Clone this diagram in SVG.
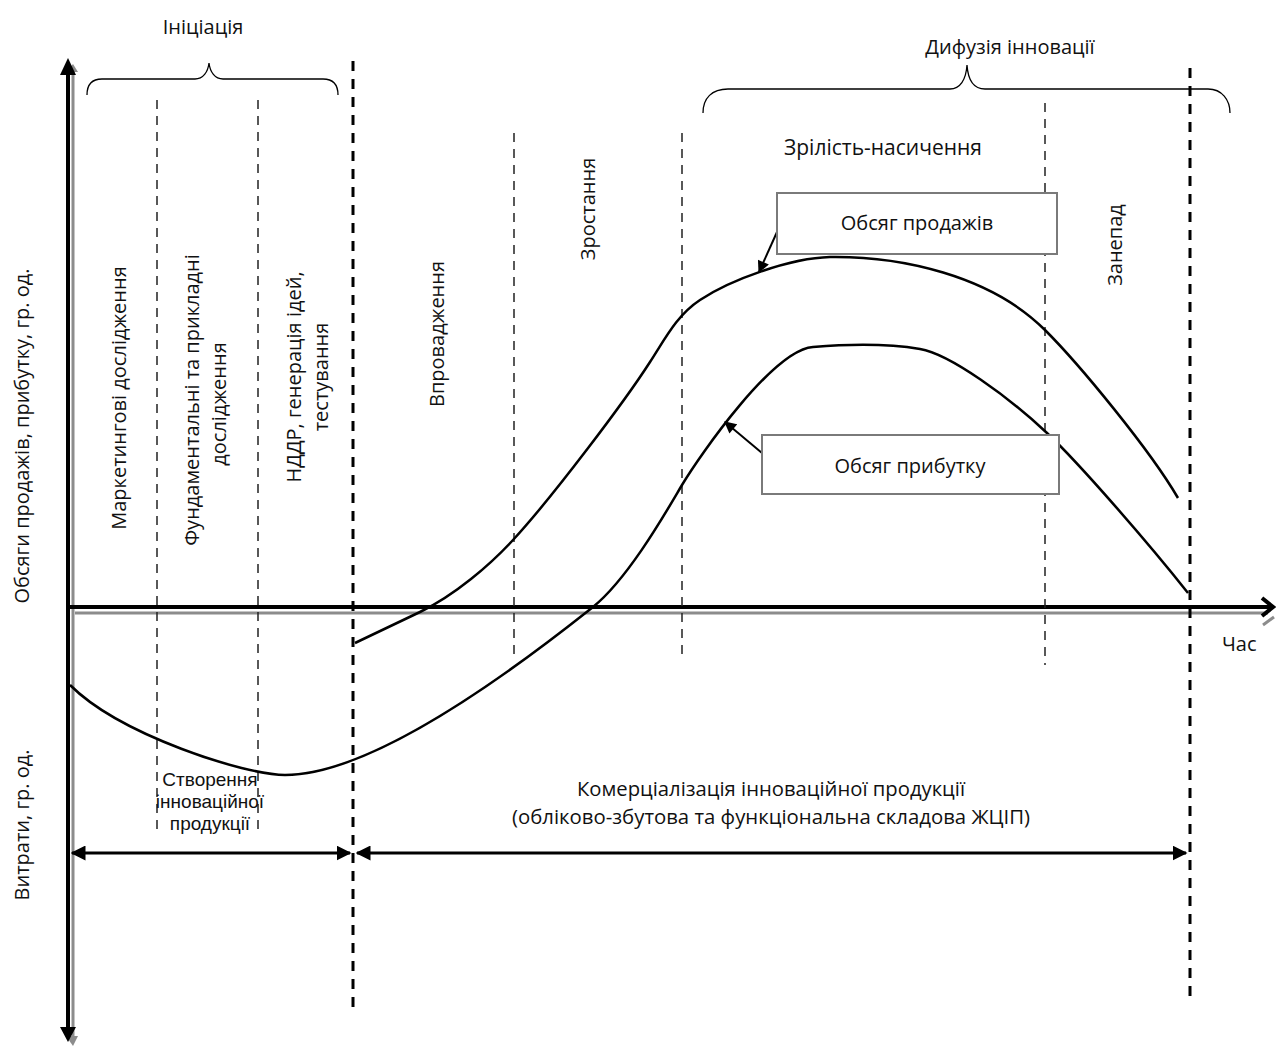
<svg xmlns="http://www.w3.org/2000/svg" width="1276" height="1047" viewBox="0 0 1276 1047">
<defs>
<style>
text{font-family:"Open Sans","Noto Sans","Liberation Sans",sans-serif;font-size:20px;fill:#111;}
.c{text-anchor:middle;}
.axis{stroke:#000;stroke-width:4;fill:none;}
.shadow{stroke:#8c8c8c;stroke-width:3;fill:none;}
.dt{stroke:#222;stroke-width:1.5;stroke-dasharray:9,7;fill:none;}
.dk{stroke:#000;stroke-width:3;stroke-dasharray:10,8;fill:none;}
.curve{stroke:#000;stroke-width:2.5;fill:none;}
.brace{stroke:#000;stroke-width:1.3;fill:none;}
.box{fill:#fff;stroke:#7a7a7a;stroke-width:2;}
.dim{stroke:#000;stroke-width:3;fill:none;}
.sm{font-family:"Liberation Sans",Arial,sans-serif;font-size:19px;}
</style>
<marker id="fa" viewBox="0 0 10 10" refX="9" refY="5" markerWidth="5" markerHeight="5" orient="auto-start-reverse" markerUnits="strokeWidth">
<path d="M0,0 L10,5 L0,10 z" fill="#000"/>
</marker>
<marker id="fa2" viewBox="0 0 10 10" refX="9" refY="5" markerWidth="7" markerHeight="6" orient="auto" markerUnits="strokeWidth">
<path d="M0,0 L10,5 L0,10 z" fill="#000"/>
</marker>
</defs>

<g id="axes">
<line class="shadow" x1="73" y1="70" x2="73" y2="1040"/>
<path d="M66,72 L73,64 L78,72 z" fill="#8c8c8c"/>
<path d="M66,1036 L73,1046 L78,1036 z" fill="#8c8c8c"/>
<line class="axis" x1="68" y1="66" x2="68" y2="1034"/>
<path d="M60,75 L68,58 L76,75 z" fill="#000"/>
<path d="M60,1027 L68,1042 L76,1027 z" fill="#000"/>
<line class="shadow" x1="75" y1="613" x2="1268" y2="613"/>
<path d="M1263,625 L1274,617" stroke="#8c8c8c" stroke-width="3" fill="none"/>
<line class="axis" x1="68" y1="607" x2="1272" y2="607"/>
<path d="M1262,598 L1273,607 L1262,616" stroke="#000" stroke-width="4" fill="none"/>
</g>

<g id="dividers">
<line class="dt" x1="157" y1="100" x2="157" y2="832"/>
<line class="dt" x1="258" y1="100" x2="258" y2="832"/>
<line class="dk" x1="353" y1="61" x2="353" y2="1010"/>
<line class="dt" x1="514" y1="133" x2="514" y2="660"/>
<line class="dt" x1="682" y1="133" x2="682" y2="660"/>
<line class="dt" x1="1045" y1="103" x2="1045" y2="665"/>
<line class="dk" x1="1190" y1="68" x2="1190" y2="1000"/>
</g>

<g id="braces">
<path class="brace" d="M87,95 C87,85 92,79 102,79 L195,79 C203,79 208,72 209,63 C210,72 215,79 223,79 L323,79 C333,79 338,85 338,95"/>
<path class="brace" d="M703,113 C703,98 712,89 728,89 L950,89 C960,89 966,80 967,65 C968,80 974,89 985,89 L1208,89 C1222,89 1230,100 1230,113"/>
</g>

<g id="curves">
<path class="curve" d="M355,643 L420,612 C455,595 490,565 513,540 C553,496.5 625,401 650,362 C665,339 677,315 700,300 C730,280 790,258 830,257 C900,256 990,275 1045,330 C1080,365 1150,450 1178,498"/>
<path class="curve" d="M70,685 C120,735 245,775 285,775 C385,775 560,633 593,607 C630,577 670,505 682,485 C700,455 773,350 813,347 C850,344 890,344 920,349 C950,354 1010,398 1047,433 C1080,464 1150,545 1188,593"/>
</g>

<g id="connectors">
<line x1="777" y1="232" x2="759" y2="272" stroke="#000" stroke-width="2" marker-end="url(#fa2)"/>
<line x1="762" y1="453" x2="725" y2="422" stroke="#000" stroke-width="2" marker-end="url(#fa2)"/>
<line class="dim" x1="72" y1="853" x2="350" y2="853" marker-start="url(#fa)" marker-end="url(#fa)"/>
<line class="dim" x1="357" y1="853" x2="1186" y2="853" marker-start="url(#fa)" marker-end="url(#fa)"/>
</g>

<g id="box-sales">
<rect class="box" x="777" y="193" width="280" height="61"/>
<text class="c" x="917" y="230">Обсяг продажів</text>
</g>
<g id="box-profit">
<rect class="box" x="762" y="435" width="297" height="59"/>
<text class="c" x="910" y="473">Обсяг прибутку</text>
</g>

<g id="labels">
<text class="c" x="203" y="34">Ініціація</text>
<text class="c" x="1010" y="54">Дифузія інновації</text>
<text class="c" x="883" y="155" style="font-size:21px">Зрілість-насичення</text>
<text class="c" transform="translate(126,398) rotate(-90)">Маркетингові дослідження</text>
<text class="c" transform="translate(199,400) rotate(-90)">Фундаментальні та прикладні</text>
<text class="c" transform="translate(226,404) rotate(-90)">дослідження</text>
<text class="c" transform="translate(301,377) rotate(-90)">НДДР, генерація ідей,</text>
<text class="c" transform="translate(328,377) rotate(-90)">тестування</text>
<text class="c" transform="translate(444,334) rotate(-90)">Впровадження</text>
<text class="c" transform="translate(595,209) rotate(-90)">Зростання</text>
<text class="c" transform="translate(1122,245) rotate(-90)">Занепад</text>
<text class="c" transform="translate(29,436) rotate(-90)">Обсяги продажів, прибутку, гр. од.</text>
<text class="c" transform="translate(29,825) rotate(-90)">Витрати, гр. од.</text>
<text x="1222" y="651">Час</text>
<text class="c sm" x="210" y="786">Створення</text>
<text class="c sm" x="210" y="808">інноваційної</text>
<text class="c sm" x="210" y="830">продукції</text>
<text class="c" x="771" y="796" textLength="388" lengthAdjust="spacingAndGlyphs">Комерціалізація інноваційної продукції</text>
<text class="c" x="771" y="824" textLength="518" lengthAdjust="spacingAndGlyphs">(обліково-збутова та функціональна складова ЖЦІП)</text>
</g>
</svg>
